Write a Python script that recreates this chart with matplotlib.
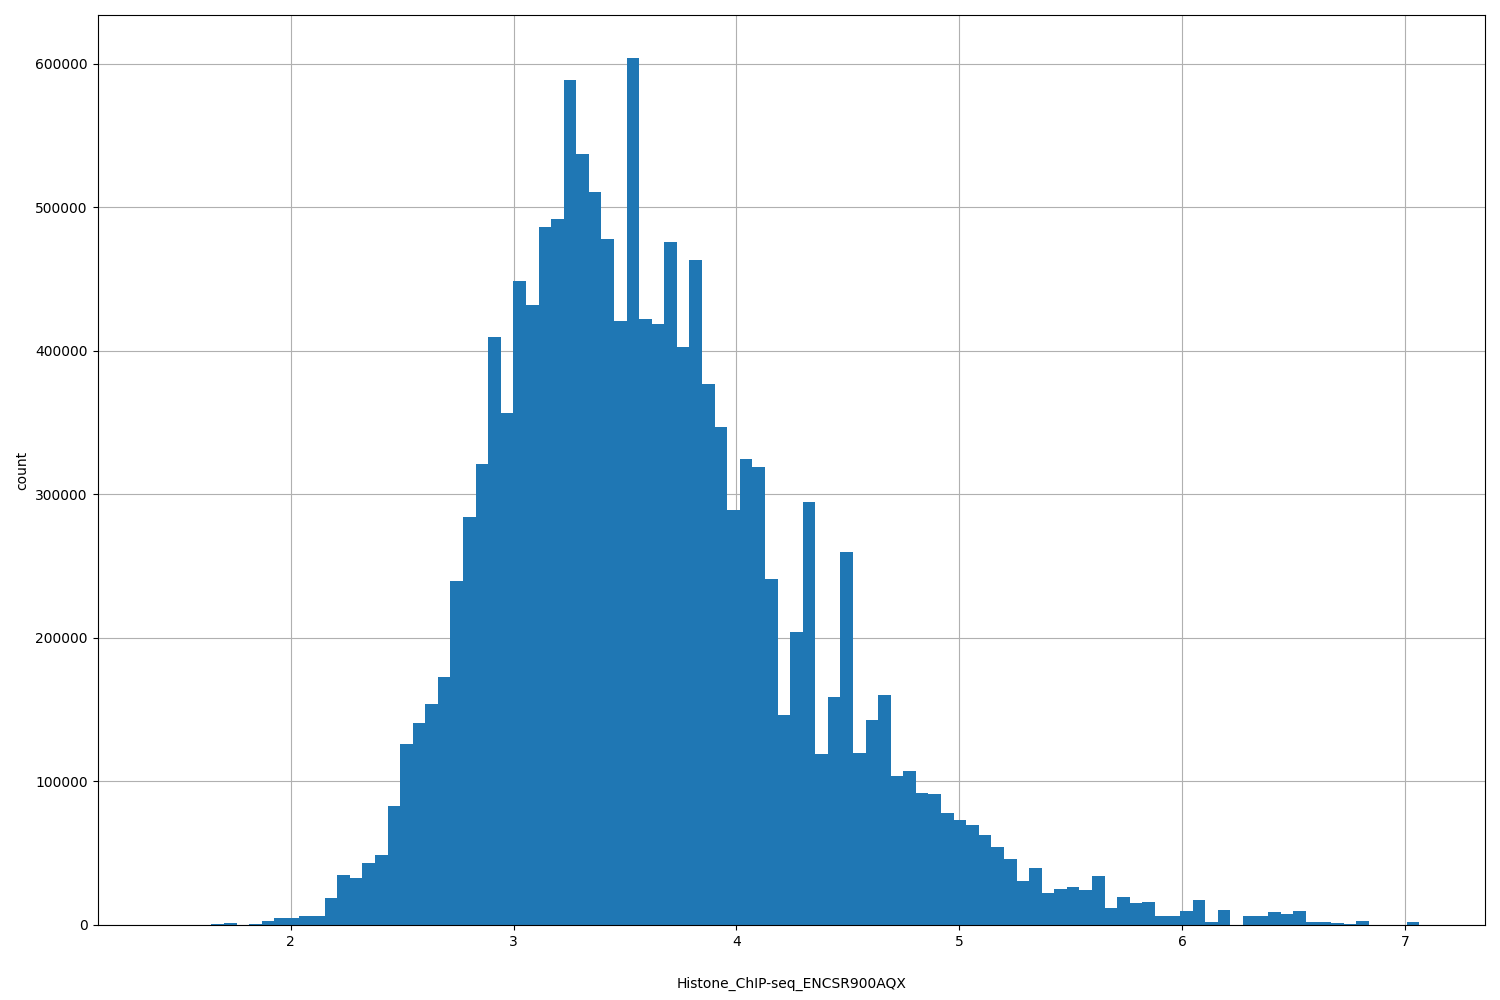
import numpy as np
import matplotlib
matplotlib.use("Agg")
import matplotlib.pyplot as plt

# histogram of Histone_ChIP-seq_ENCSR900AQX, 100 bins
bin_start = 1.4184
bin_width = 0.05646
counts = [0, 0, 0, 0,
          900, 1600, 0, 900, 2500, 4600, 5100, 6500, 6500, 19000,
          35000, 33000, 43500, 49000, 83000, 126000, 141000, 154000, 173000, 240000,
          284000, 321000, 410000, 357000, 449000, 432000, 486000, 492000, 589000, 537000,
          511000, 478000, 421000, 604000, 422000, 419000, 476000, 403000, 463000, 377000,
          347000, 289000, 325000, 319000, 241000, 146000, 204000, 295000, 119000, 159000,
          260000, 120000, 143000, 160000, 104000, 107000, 92000, 91000, 78000, 73000,
          70000, 63000, 54000, 46000, 31000, 40000, 22000, 25000, 26500, 24500,
          34000, 12000, 19500, 15500, 16000, 6300, 6300, 9800, 17500, 2100,
          10500, 0, 6300, 6300, 9000, 7500, 9800, 2100, 2100, 1400,
          700, 2800, 0, 0, 0, 2000]

edges = bin_start + bin_width * np.arange(len(counts) + 1)

fig, ax = plt.subplots(figsize=(15, 10), dpi=100)
ax.bar(edges[:-1], counts, width=bin_width, align='edge', color='#1f77b4', zorder=2)
ax.grid(True, zorder=0)
ax.set_axisbelow(True)
ax.set_xlim(1.133, 7.36)
ax.set_ylim(0, 634000)
ax.set_xlabel('Histone_ChIP-seq_ENCSR900AQX', labelpad=20)
ax.set_ylabel('count')
plt.subplots_adjust(left=0.065, right=0.99, top=0.985, bottom=0.075)
plt.savefig('out.png')
